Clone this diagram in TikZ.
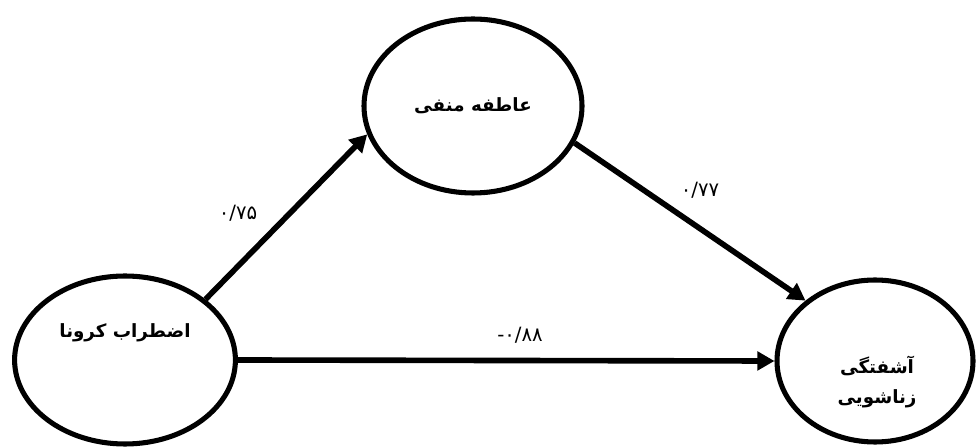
\documentclass[tikz,border=0pt]{standalone}
\usepackage{fontspec}
\usepackage{tikz}
\usetikzlibrary{arrows.meta,positioning,shapes.geometric}
\newfontfamily\arabicfont[Script=Arabic]{DejaVu Sans}
\TeXXeTstate=1

\begin{document}
\begin{tikzpicture}[
    >={Triangle[length=4.3mm, width=4.6mm]},
    var/.style={ellipse, draw=black, line width=3.6pt, inner sep=0pt},
    vname/.style={font=\arabicfont\bfseries\fontsize{13}{21}\selectfont, align=center},
    coef/.style={font=\arabicfont\fontsize{14}{16}\selectfont},
    link/.style={->, line width=4pt}]
    \useasboundingbox (0,0) rectangle (24.4,11.175);
    % --- Variables ---
    \node[var, minimum width=5.52cm, minimum height=4.2cm] (corona) at (3.125,2.175) {};
    \node[var, minimum width=5.45cm, minimum height=4.35cm] (affect) at (11.825,8.525) {};
    \node[var, minimum width=4.9cm, minimum height=4.05cm] (marital) at (21.875,2.15) {};
    \node[vname] (corona-txt) at (3.125,2.85) {\beginR اضطراب کرونا\endR};
    \node[vname] (affect-txt) at (affect.center) {\beginR عاطفه منفی\endR};
    \node[vname] (marital-txt) at (21.925,1.625) {\beginR آشفتگی\endR\\\beginR زناشویی\endR};
    % --- Paths ---
    \draw[link] (corona.37) -- (affect.195);
    \draw[link] (affect.340) -- (marital.139);
    \draw[link] (corona.east) -- (marital.west);
    % --- Coefficients ---
    \node[coef] (c1) at (5.95,5.85) {۰/۷۵};
    \node[coef] (c2) at (17.5,6.425) {۰/۷۷};
    \node[coef] (c3) at (13.0,2.8) {-\kern0pt ۰/۸۸};
\end{tikzpicture}
\end{document}
